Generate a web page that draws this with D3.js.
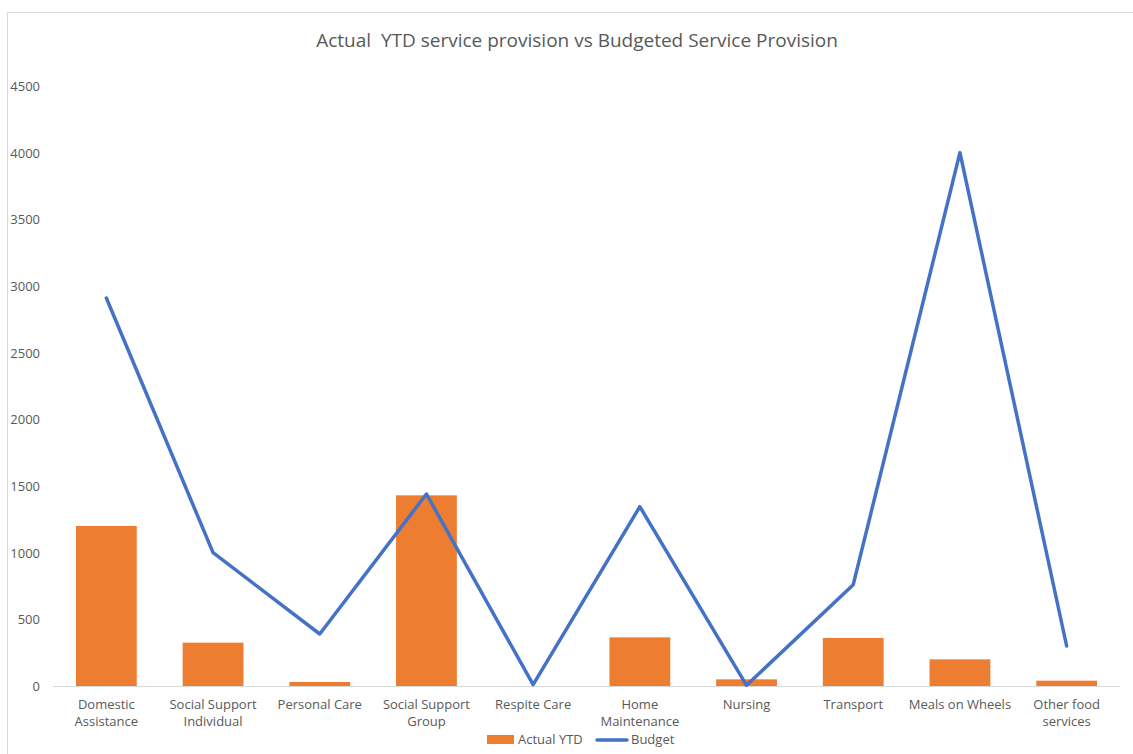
<!DOCTYPE html>
<html><head><meta charset="utf-8">
<script src="https://cdn.jsdelivr.net/npm/d3@7"></script>
<style>body{margin:0;background:#fff}svg{display:block}text{font-family:"Open Sans","Liberation Sans",sans-serif;fill:#595959}</style>
</head><body><svg id="c" width="1133" height="754"></svg>
<script>
const categories = ["Domestic Assistance","Social Support Individual","Personal Care","Social Support Group","Respite Care","Home Maintenance","Nursing","Transport","Meals on Wheels","Other food services"];
const categoryLines = [["Domestic","Assistance"],["Social Support","Individual"],["Personal Care"],["Social Support","Group"],["Respite Care"],["Home","Maintenance"],["Nursing"],["Transport"],["Meals on Wheels"],["Other food","services"]];
const actualYTD = [1200, 325, 30, 1430, 0, 365, 50, 360, 200, 40];
const budget = [2910, 1000, 390, 1440, 10, 1345, 5, 760, 4000, 300];
const yTicks = [0,500,1000,1500,2000,2500,3000,3500,4000,4500];
const title = "Actual  YTD service provision vs Budgeted Service Provision";
const seriesNames = ["Actual YTD","Budget"];

const svg = d3.select("#c");
svg.append("rect").attr("x",7.5).attr("y",12.5).attr("width",1300).attr("height",900).attr("fill","none").attr("stroke","#d9d9d9");

const x = d3.scaleBand().domain(categories).range([53,1120]).paddingInner(0.43).paddingOuter(0.215);
const xc = d => x(d) + x.bandwidth()/2;
const y = d3.scaleLinear().domain([0,4500]).range([686,86]);

svg.append("text").attr("x",577).attr("y",47).attr("text-anchor","middle").style("font-size","19px").style("white-space","pre").text(title);

// y axis labels
const yAxis = d3.axisLeft(y).tickValues(yTicks).tickFormat(d3.format("d")).tickSize(0).tickPadding(0);
const ya = svg.append("g").attr("transform","translate(40,0)").call(yAxis);
ya.select(".domain").remove();
ya.selectAll("text").style("font-size","13px").attr("fill","#595959").style("font-family","'Open Sans','Liberation Sans',sans-serif").attr("dy","0.35em");

// bars
svg.append("g").selectAll("rect").data(actualYTD).join("rect")
  .attr("x",(d,i)=>x(categories[i])).attr("width",x.bandwidth())
  .attr("y",d=>y(d)).attr("height",d=>y(0)-y(d)).attr("fill","#ED7D31");

// baseline
svg.append("line").attr("x1",53).attr("x2",1120).attr("y1",y(0)+0.5).attr("y2",y(0)+0.5).attr("stroke","#d9d9d9").attr("stroke-width",1);

// x labels
const xa = svg.append("g");
categoryLines.forEach((lines,i)=>{
  const t = xa.append("text").attr("x",xc(categories[i])).attr("y",709).attr("text-anchor","middle").style("font-size","13px");
  lines.forEach((l,j)=>t.append("tspan").attr("x",xc(categories[i])).attr("dy",j?17:0).text(l));
});

// budget line
const line = d3.line().x((d,i)=>xc(categories[i])).y(d=>y(d));
svg.append("path").datum(budget).attr("d",line).attr("fill","none").attr("stroke","#4472C4").attr("stroke-width",3.5).attr("stroke-linejoin","round").attr("stroke-linecap","round");

// legend
const lg = svg.append("g");
lg.append("rect").attr("x",487).attr("y",735).attr("width",27).attr("height",9).attr("fill","#ED7D31");
lg.append("text").attr("x",518).attr("y",744).style("font-size","13px").text(seriesNames[0]);
lg.append("line").attr("x1",597).attr("x2",627).attr("y1",740).attr("y2",740).attr("stroke","#4472C4").attr("stroke-width",3.5).attr("stroke-linecap","round");
lg.append("text").attr("x",631).attr("y",744).style("font-size","13px").text(seriesNames[1]);
</script></body></html>
